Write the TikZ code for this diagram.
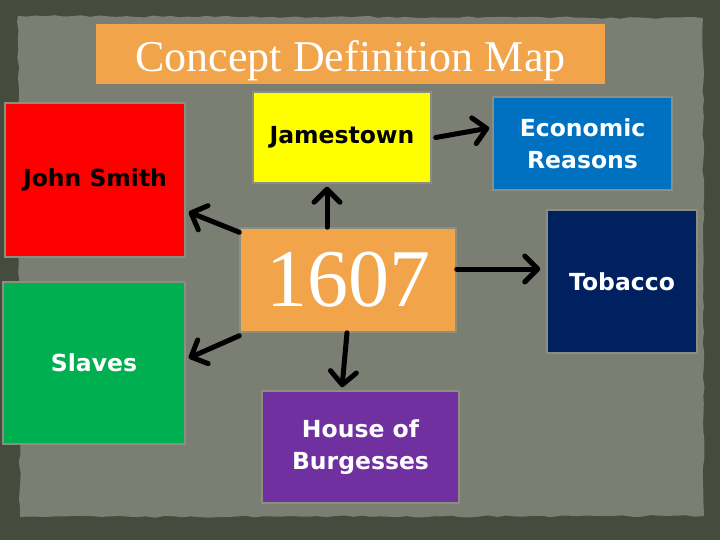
\documentclass[tikz,border=0pt]{standalone}
\usepackage{fontspec}
\setmainfont{Liberation Serif}
\newfontfamily\comicfont{DejaVu Sans}
\usetikzlibrary{arrows.meta,decorations.pathmorphing}

\definecolor{outerbg}{HTML}{464C3D}
\definecolor{paper}{HTML}{7B7E73}
\definecolor{boxedge}{HTML}{8A8F80}
\definecolor{titleorange}{HTML}{F2A44A}
\definecolor{smithred}{HTML}{FF0000}
\definecolor{jtyellow}{HTML}{FFFF00}
\definecolor{econblue}{HTML}{0070C0}
\definecolor{tobnavy}{HTML}{002060}
\definecolor{slavegreen}{HTML}{00B050}
\definecolor{burgpurple}{HTML}{7030A0}

\tikzset{
  concept/.style={draw=boxedge, line width=1.5pt, inner sep=0pt, align=center,
    font=\comicfont\bfseries\fontsize{23.5}{32}\selectfont, text=white},
  maparrow/.style={line width=5pt, line cap=round, line join=round,
    -{Straight Barb[length=13pt,width=26pt,line cap=round,line join=round]}}
}

\begin{document}
\begin{tikzpicture}[x=1pt,y=-1pt]
  \useasboundingbox (0,0) rectangle (720,540);
  % background and paper
  \fill[outerbg] (0,0) rectangle (720,540);
  \fill[paper, decorate, decoration={random steps,segment length=9pt,amplitude=1pt}]
    (18,16) -- (703,18) -- (704,516) -- (20,517) -- cycle;

  % title
  \node[fill=titleorange, minimum width=509pt, minimum height=60pt, text=white,
    text height=40pt, text depth=4pt,
    font=\fontsize{44}{48}\selectfont] (title) at (350.5,54) {Concept Definition Map};

  % concepts
  \node[concept, fill=smithred, text=black, minimum width=180pt, minimum height=154pt]
    (smith) at (95,180) {John Smith};
  \node[concept, fill=jtyellow, text=black, minimum width=178pt, minimum height=91pt]
    (jamestown) at (342,137.5) {Jamestown};
  \node[concept, fill=titleorange, minimum width=216pt, minimum height=104pt,
    font=\fontsize{82}{90}\selectfont] (year) at (348,280) {1607};
  \node[concept, fill=econblue, minimum width=179pt, minimum height=93pt]
    (econ) at (582.5,143.5) {Economic\\Reasons};
  \node[concept, fill=tobnavy, minimum width=150pt, minimum height=143pt]
    (tobacco) at (622,281.5) {Tobacco};
  \node[concept, fill=slavegreen, minimum width=182pt, minimum height=162pt]
    (slaves) at (94,363) {Slaves};
  \node[concept, fill=burgpurple, minimum width=197pt, minimum height=112pt]
    (burgesses) at (360.5,447) {House of\\Burgesses};

  % arrows
  \draw[maparrow] ([xshift=-21pt]year.north) -- ([xshift=-15pt,yshift=-3pt]jamestown.south);
  \draw[maparrow] ([xshift=4pt]jamestown.east) -- ([xshift=-3pt,yshift=15.5pt]econ.west);
  \draw[maparrow] ([yshift=-5pt]year.north west) -- ([xshift=3pt,yshift=-32pt]smith.east);
  \draw[maparrow] ([yshift=-3pt]year.south west) -- ([xshift=3pt,yshift=5pt]slaves.east);
  \draw[maparrow] ([xshift=-1pt]year.south) -- ([xshift=-18.5pt,yshift=3pt]burgesses.north);
  \draw[maparrow] ([yshift=11pt]year.east) -- ([xshift=-6pt,yshift=12.5pt]tobacco.west);
\end{tikzpicture}
\end{document}
